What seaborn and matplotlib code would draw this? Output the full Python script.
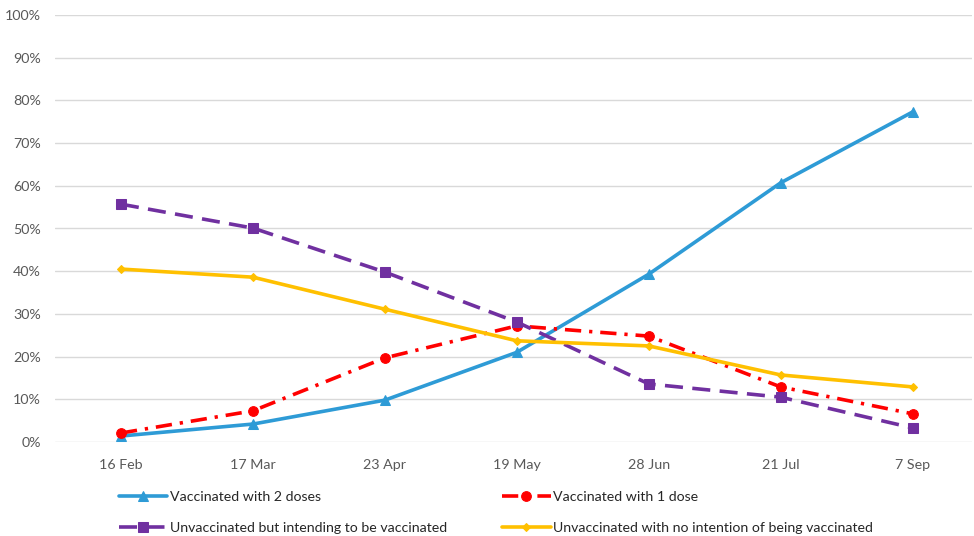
import matplotlib
matplotlib.use("Agg")
import matplotlib.pyplot as plt
from matplotlib.ticker import PercentFormatter
import seaborn as sns
import pandas as pd

dates = ["16 Feb", "17 Mar", "23 Apr", "19 May", "28 Jun", "21 Jul", "7 Sep"]
two_doses = [1.4, 4.2, 9.8, 21.0, 39.3, 60.7, 77.3]
one_dose = [2.1, 7.3, 19.7, 27.2, 24.8, 12.9, 6.6]
intending = [55.7, 50.1, 39.8, 28.1, 13.6, 10.5, 3.3]
no_intention = [40.5, 38.6, 31.1, 23.7, 22.5, 15.7, 12.9]

series = [
    ("Vaccinated with 2 doses", two_doses, "#2E9BD6", "-", "^", 7),
    ("Vaccinated with 1 dose", one_dose, "#FF0000", (0, (4.5, 2.2, 0.9, 2.2)), "o", 7),
    ("Unvaccinated but intending to be vaccinated", intending, "#7030A0", (0, (5, 2.6)), "s", 6.5),
    ("Unvaccinated with no intention of being vaccinated", no_intention, "#FFC000", "-", "D", 4.5),
]

sns.set_theme(style="white")
plt.rcParams["font.family"] = ["Lato", "DejaVu Sans"]

fig = plt.figure(figsize=(9.74, 5.36), dpi=100)
ax = fig.add_axes([55 / 974, 1 - 442 / 536, 917 / 974, (442 - 15) / 536])

x = list(range(len(dates)))
for label, vals, color, ls, marker, ms in series:
    df = pd.DataFrame({"x": x, "y": vals})
    sns.lineplot(data=df, x="x", y="y", ax=ax, color=color, linestyle=ls,
                 linewidth=2.6, marker=marker, markersize=ms,
                 markeredgecolor=color, label=label)

ax.set_xlim(-0.5, 6.45)
ax.set_ylim(0, 100)
ax.set_yticks(range(0, 101, 10))
ax.yaxis.set_major_formatter(PercentFormatter(decimals=0))
ax.set_xticks(x)
ax.set_xticklabels(dates)
ax.set_xlabel("")
ax.set_ylabel("")
ax.grid(axis="y", color="#D9D9D9", linewidth=1)
ax.set_axisbelow(True)
for s in ax.spines.values():
    s.set_visible(False)
ax.tick_params(axis="both", length=0, labelsize=10.3, colors="#595959")
ax.tick_params(axis="x", pad=12)
ax.tick_params(axis="y", pad=10)

handles, labels = ax.get_legend_handles_labels()
order = [0, 2, 1, 3]
ax.legend([handles[i] for i in order], [labels[i] for i in order],
          ncol=2, loc="upper left", bbox_to_anchor=(119 / 974, 1 - 491 / 536),
          bbox_transform=fig.transFigure, frameon=False, fontsize=10.2,
          handlelength=3.4, handletextpad=0.2, columnspacing=3.9,
          labelspacing=1.35, borderaxespad=0, borderpad=0)

fig.savefig("out.png", dpi=100)
